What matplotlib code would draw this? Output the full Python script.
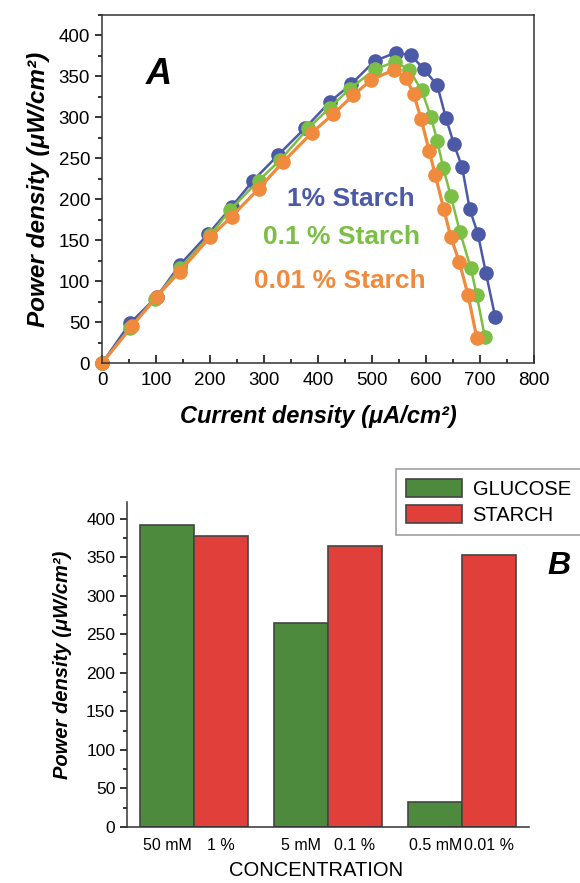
import matplotlib
matplotlib.use("Agg")
import matplotlib.pyplot as plt
from matplotlib.ticker import MultipleLocator
import numpy as np

plt.rcParams['font.family'] = ['Liberation Sans', 'DejaVu Sans']

# panel A: power curves
x_1 = [0, 52, 101, 144, 197, 240, 280, 326, 376, 422, 462, 505, 544, 572, 596, 621, 637, 652, 667, 681, 696, 711, 728]
y_1 = [0, 49, 81, 120, 158, 191, 223, 254, 287, 319, 341, 369, 379, 376, 359, 339, 299, 267, 239, 188, 158, 110, 57]
x_01 = [0, 52, 98, 144, 200, 237, 290, 330, 382, 422, 459, 506, 543, 569, 592, 609, 621, 632, 646, 663, 683, 694, 709]
y_01 = [0, 43, 79, 116, 156, 187, 223, 248, 287, 312, 335, 359, 368, 358, 333, 301, 271, 238, 204, 160, 116, 83, 32]
x_001 = [0, 55, 101, 144, 200, 240, 290, 336, 388, 428, 465, 499, 540, 563, 577, 591, 606, 617, 633, 646, 662, 678, 694]
y_001 = [0, 45, 81, 112, 154, 179, 213, 246, 281, 304, 327, 346, 358, 348, 329, 298, 259, 230, 188, 154, 123, 83, 31]

# panel B: bars
groups = ['50 mM', '5 mM', '0.5 mM']
starch_lbl = ['1 %', '0.1 %', '0.01 %']
glucose = [392, 264, 32]
starch = [378, 365, 353]

c_blue = '#4b59a6'
c_green = '#7bbf45'
c_orange = '#f08a3c'

fig = plt.figure(figsize=(5.8, 8.83), dpi=100)

ax1 = fig.add_axes([102/580, 1-363.3/883, (534-102)/580, (363.3-15)/883])
for xs, ys, c, lw in [(x_1, y_1, c_blue, 1.8), (x_01, y_01, c_green, 1.8), (x_001, y_001, c_orange, 2.3)]:
    ax1.plot(xs, ys, '-o', color=c, lw=lw, ms=9.5, mec=c, clip_on=False)
ax1.set_xlim(0, 800)
ax1.set_ylim(0, 425)
ax1.xaxis.set_major_locator(MultipleLocator(100))
ax1.xaxis.set_minor_locator(MultipleLocator(50))
ax1.yaxis.set_major_locator(MultipleLocator(50))
ax1.yaxis.set_minor_locator(MultipleLocator(25))
ax1.tick_params(axis='x', which='major', direction='in', length=6, width=1.1, labelsize=13.5, pad=6)
ax1.tick_params(axis='x', which='minor', direction='in', length=3, width=1.1)
ax1.tick_params(axis='y', which='major', direction='out', length=5, width=1.1, labelsize=13.5)
ax1.tick_params(axis='y', which='minor', direction='out', length=3, width=1.1)
for s in ax1.spines.values():
    s.set_linewidth(1.1)
    s.set_color('#333333')
ax1.set_xlabel('Current density (\u03bcA/cm\u00b2)', fontsize=17, fontweight='bold', style='italic', labelpad=12)
ax1.set_ylabel('Power density (\u03bcW/cm\u00b2)', fontsize=17.5, fontweight='bold', style='italic', labelpad=6)
ax1.text(105, 352, 'A', fontsize=26, fontweight='bold', style='italic', va='center', ha='center')
ax1.text(342, 201, '1% Starch', color=c_blue, fontsize=19, fontweight='bold', va='center')
ax1.text(298, 154, '0.1 % Starch', color=c_green, fontsize=19, fontweight='bold', va='center')
ax1.text(281, 101, '0.01 % Starch', color=c_orange, fontsize=19, fontweight='bold', va='center')

ax2 = fig.add_axes([127/580, 1-827/883, (529-127)/580, (827-501.7)/883])
pos = np.arange(len(groups))
w = 0.4
b1 = ax2.bar(pos - w/2, glucose, w, color='#4e8a3e', edgecolor='#444444', lw=1.2, label='GLUCOSE')
b2 = ax2.bar(pos + w/2, starch, w, color='#e03f3a', edgecolor='#444444', lw=1.2, label='STARCH')
ax2.set_xlim(-0.5, 2.5)
ax2.set_ylim(0, 422)
ax2.set_xticks(np.concatenate([pos - w/2, pos + w/2]))
ax2.set_xticklabels(groups + starch_lbl)
ax2.yaxis.set_major_locator(MultipleLocator(50))
ax2.yaxis.set_minor_locator(MultipleLocator(25))
ax2.tick_params(axis='x', length=0, labelsize=11.5, pad=8)
ax2.tick_params(axis='y', which='major', direction='out', length=5, width=1.1, labelsize=12.5)
ax2.tick_params(axis='y', which='minor', direction='out', length=3, width=1.1)
ax2.spines['top'].set_visible(False)
ax2.spines['right'].set_visible(False)
for s in ['left', 'bottom']:
    ax2.spines[s].set_linewidth(1.1)
    ax2.spines[s].set_color('#333333')
ax2.set_xlabel('CONCENTRATION', fontsize=14.5)
ax2.xaxis.set_label_coords(0.47, -0.105)
ax2.set_ylabel('Power density (\u03bcW/cm\u00b2)', fontsize=14.5, fontweight='bold', style='italic', labelpad=10)
fig.text(559/580, 1-566/883, 'B', fontsize=23, fontweight='bold', style='italic', ha='center', va='center')
leg = fig.legend(handles=[b1, b2], loc='upper left', bbox_to_anchor=(396/580, 1-469/883), borderaxespad=0,
                 fontsize=14.5, frameon=True, fancybox=False, edgecolor='#888888',
                 handlelength=2.8, handleheight=1.0, handletextpad=0.5, borderpad=0.5, labelspacing=0.3)
leg.get_frame().set_linewidth(1.2)

fig.savefig('out.png', dpi=100)
